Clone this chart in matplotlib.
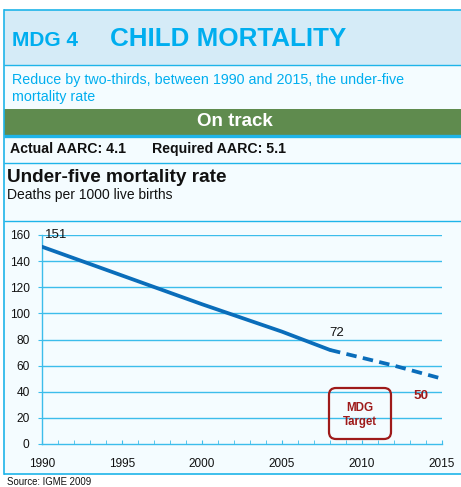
import matplotlib
matplotlib.use("Agg")
import matplotlib.pyplot as plt
from matplotlib.patches import Rectangle, FancyBboxPatch

plt.rcParams['font.family'] = ['Liberation Sans', 'DejaVu Sans']

# ---- data ----
years_actual = [1990, 1995, 2000, 2005, 2008]
u5mr_actual = [151, 129, 107, 86, 72]
years_proj = [2008, 2010, 2012, 2015]
u5mr_proj = [72, 66, 60, 50]
xticks_major = [1990, 1995, 2000, 2005, 2010, 2015]
yticks = [0, 20, 40, 60, 80, 100, 120, 140, 160]
label_1990 = 151
label_2008 = 72
target_2015 = 50

W, H = 461, 487
CYAN = '#1EB4E9'
HEADER_BG = '#D5EBF7'
BODY_BG = '#F4FCFF'
GREEN = '#5F8B4E'
TITLE = '#00AEEF'
LINE = '#0A6DBA'
RED = '#9E1A1A'
GRID = '#3CBDEB'
TXT = '#111111'

fig = plt.figure(figsize=(W / 100, H / 100), dpi=100)
fig.patch.set_facecolor('white')

bg = fig.add_axes([0, 0, 1, 1])
bg.set_xlim(0, W)
bg.set_ylim(H, 0)
bg.axis('off')
bg.set_zorder(0)

# backgrounds
bg.add_patch(Rectangle((3.5, 10), W, 464, facecolor=BODY_BG, edgecolor='none'))
bg.add_patch(Rectangle((3.5, 10), W, 55, facecolor=HEADER_BG, edgecolor='none'))
bg.add_patch(Rectangle((3.5, 109), W, 26, facecolor=GREEN, edgecolor='none'))

# border lines
for y, lw in [(10, 1.2), (65, 1.0), (136, 2.4), (162.5, 1.0), (221, 1.0), (474, 1.2)]:
    bg.plot([3.5, W], [y, y], color=CYAN, lw=lw, solid_capstyle='butt')
bg.plot([3.5, 3.5], [10, 474], color=CYAN, lw=1.2)

# header texts
bg.text(12, 40, 'MDG 4', color=TITLE, fontsize=15, fontweight='bold', va='center', ha='left')
bg.text(110, 39, 'CHILD MORTALITY', color=TITLE, fontsize=18.7, fontweight='bold', va='center', ha='left')
bg.text(12, 80, 'Reduce by two-thirds, between 1990 and 2015, the under-five', color=TITLE,
        fontsize=10.3, va='center', ha='left')
bg.text(12, 97, 'mortality rate', color=TITLE, fontsize=10.3, va='center', ha='left')
bg.text(235, 122, 'On track', color='white', fontsize=13.5, fontweight='bold', va='center', ha='center')
bg.text(10, 149, 'Actual AARC: 4.1', color=TXT, fontsize=10.2, fontweight='bold', va='center', ha='left')
bg.text(152, 149, 'Required AARC: 5.1', color=TXT, fontsize=10.2, fontweight='bold', va='center', ha='left')
bg.text(7, 177, 'Under-five mortality rate', color=TXT, fontsize=13.7, fontweight='bold', va='center', ha='left')
bg.text(7, 195, 'Deaths per 1000 live births', color=TXT, fontsize=10, va='center', ha='left')
bg.text(7, 482, 'Source: IGME 2009', color=TXT, fontsize=6.9, va='center', ha='left')

# ---- main chart ----
x0, x1, ytop, ybot = 42, 442, 235, 444
ax = fig.add_axes([x0 / W, (H - ybot) / H, (x1 - x0) / W, (ybot - ytop) / H])
ax.set_zorder(2)
ax.patch.set_alpha(0)
ax.set_xlim(1990, 2015)
ax.set_ylim(0, 160)

for yv in yticks[1:]:
    ax.axhline(yv, color=GRID, lw=1.0, zorder=1)

ax.plot(years_actual, u5mr_actual, color=LINE, lw=2.7, solid_capstyle='round', zorder=3)
ax.plot(years_proj, u5mr_proj, color=LINE, lw=2.7, linestyle=(0, (2.8, 1.7)), zorder=3)

for s in ['top', 'right']:
    ax.spines[s].set_visible(False)
for s in ['left', 'bottom']:
    ax.spines[s].set_color(GRID)
    ax.spines[s].set_linewidth(1.0)

ax.set_yticks(yticks)
ax.set_yticklabels([str(v) for v in yticks])
ax.set_xticks(xticks_major)
ax.set_xticklabels([str(v) for v in xticks_major])
ax.set_xticks(list(range(1990, 2016)), minor=True)
ax.tick_params(axis='y', direction='out', length=3, color=GRID, labelsize=8.6, labelcolor=TXT, pad=6)
ax.tick_params(axis='x', which='both', direction='in', length=3, color=GRID, labelsize=8.5,
               labelcolor=TXT, pad=10)

ax.annotate(str(label_1990), xy=(1990, 160), xytext=(3, 0), textcoords='offset pixels',
            fontsize=9.5, color=TXT, ha='left', va='center', zorder=4)
ax.annotate(str(label_2008), xy=(2008, 72), xytext=(7, 17), textcoords='offset pixels',
            fontsize=9.5, color=TXT, ha='center', va='center', zorder=4)
ax.annotate(str(target_2015), xy=(2015, 50), xytext=(-21, -17), textcoords='offset pixels',
            fontsize=9.7, color=RED, fontweight='bold', ha='center', va='center', zorder=4)

# MDG target box (figure pixel coords)
bg2 = fig.add_axes([0, 0, 1, 1])
bg2.set_xlim(0, W)
bg2.set_ylim(H, 0)
bg2.axis('off')
bg2.set_zorder(3)
bg2.patch.set_alpha(0)
bg2.add_patch(FancyBboxPatch((329, 388), 62, 51, boxstyle='round,pad=0,rounding_size=7',
                             facecolor='none', edgecolor=RED, lw=1.6))
bg2.text(360, 408, 'MDG', color=RED, fontsize=8.4, fontweight='bold', ha='center', va='center')
bg2.text(360, 422, 'Target', color=RED, fontsize=8.3, fontweight='bold', ha='center', va='center')

fig.savefig('out.png', dpi=100, facecolor=fig.get_facecolor())
